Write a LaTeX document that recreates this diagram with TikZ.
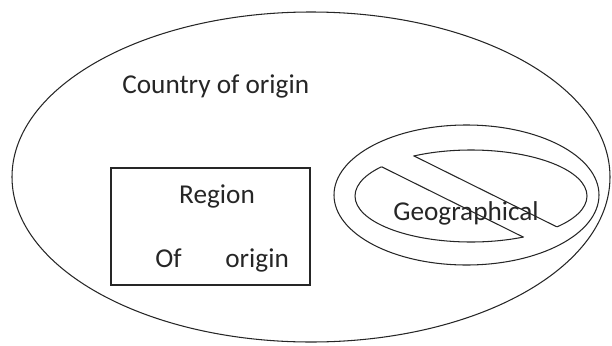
\documentclass[tikz,border=0pt]{standalone}
\usepackage{fontspec}
\setmainfont{Carlito}
\usetikzlibrary{calc}

\tikzset{
  outline/.style={draw=black!85, line width=0.6pt},
  lbl/.style={font=\fontsize{15.5}{18}\selectfont, text=black!85, inner sep=0pt}
}

\begin{document}
\begin{tikzpicture}[x=0.02cm,y=-0.02cm]
\useasboundingbox (0,0) rectangle (612,345);
% country of origin
\draw[outline] (311,177) ellipse [x radius=299, y radius=165];
\node[lbl, anchor=base west] (country) at (122,93) {Country of origin};
% region of origin
\node[outline, inner sep=0pt, minimum width=3.98cm, minimum height=2.34cm] (regionbox) at (210.5,226.5) {};
\node[lbl, anchor=base] (region) at (217,203) {Region};
\node[lbl, anchor=base west] (of) at (155,267) {Of};
\node[lbl, anchor=base west] (origin) at (225,267) {origin};
% geographical
\draw[outline] (466.5,195) ellipse [x radius=132.5, y radius=70];
\begin{scope}
\clip (300,60) -- (300,99.4) -- (620,258.3) -- (620,60) -- cycle;
\draw[outline] (471,196) ellipse [x radius=116, y radius=46];
\end{scope}
\begin{scope}
\clip (300,126.3) -- (620,285.2) -- (620,320) -- (300,320) -- cycle;
\draw[outline] (471,196) ellipse [x radius=116, y radius=46];
\end{scope}
\begin{scope}
\clip (471,196) ellipse [x radius=116, y radius=46];
\draw[outline] (372,135.1) -- (593,244.8);
\draw[outline] (342,147.1) -- (563,256.8);
\end{scope}
\node[lbl, anchor=base west] (geo) at (393,220) {Geographical};
\end{tikzpicture}
\end{document}
